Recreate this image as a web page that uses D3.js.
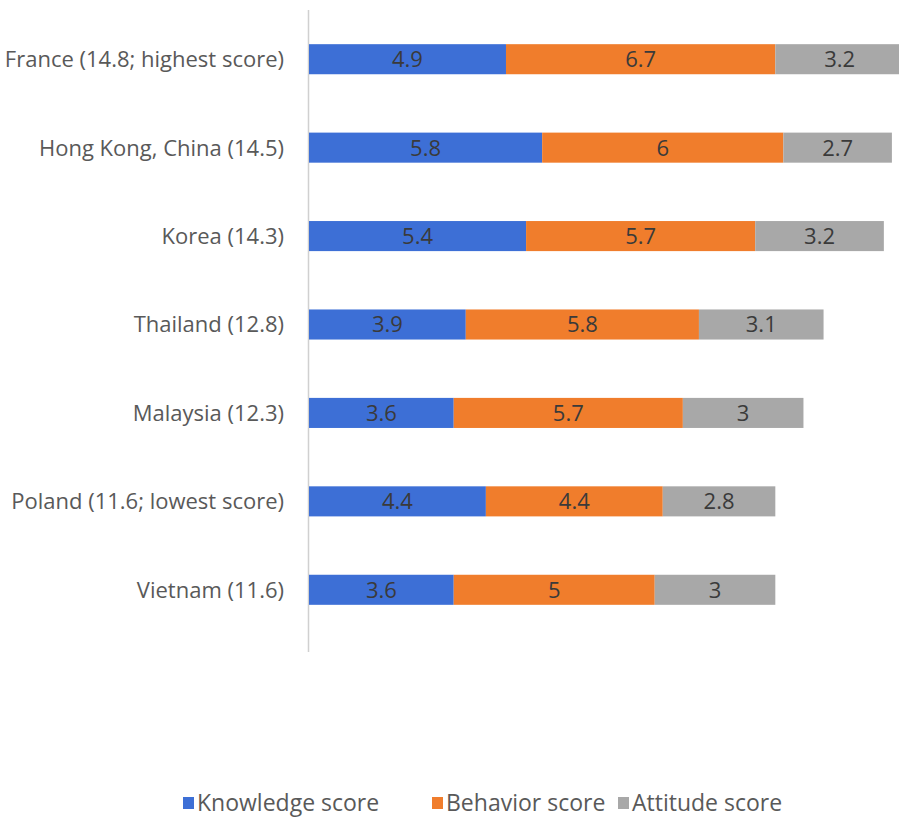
<!DOCTYPE html>
<html>
<head>
<meta charset="utf-8">
<script src="https://cdn.jsdelivr.net/npm/d3@7"></script>
<style>
  body { margin: 0; background: #fff; }
  svg { display: block; }
  text { font-family: "Open Sans", sans-serif; }
</style>
</head>
<body>
<svg id="chart" width="899" height="820"></svg>
<script>
// data
const countries = ["France (14.8; highest score)", "Hong Kong, China (14.5)", "Korea (14.3)",
                   "Thailand (12.8)", "Malaysia (12.3)", "Poland (11.6; lowest score)", "Vietnam (11.6)"];
const knowledge = [4.9, 5.8, 5.4, 3.9, 3.6, 4.4, 3.6];
const behavior  = [6.7, 6, 5.7, 5.8, 5.7, 4.4, 5];
const attitude  = [3.2, 2.7, 3.2, 3.1, 3, 2.8, 3];
const seriesNames = ["Knowledge score", "Behavior score", "Attitude score"];
const colors = ["#3d6fd6", "#f07d2c", "#a8a8a8"];

svg = d3.select("#chart");

rows = countries.map((c, i) => ({country: c, k: knowledge[i], b: behavior[i], a: attitude[i]}));
stack = d3.stack().keys(["k", "b", "a"])(rows);

x = d3.scaleLinear().domain([0, 14.8]).range([309, 309 + 14.8 * 40.2]);
y = d3.scaleBand().domain(countries).range([15, 634]).paddingInner(0.66).paddingOuter(0.33);

// category axis line
svg.append("line")
    .attr("x1", 308.5).attr("x2", 308.5)
    .attr("y1", 10).attr("y2", 652)
    .attr("stroke", "#d0d0d0").attr("stroke-width", 1.5);

layers = svg.selectAll(".layer")
    .data(stack)
    .join("g")
    .attr("class", "layer")
    .attr("fill", (d, i) => colors[i]);

layers.selectAll("rect")
    .data(d => d)
    .join("rect")
    .attr("x", d => x(d[0]))
    .attr("y", d => y(d.data.country))
    .attr("width", d => x(d[1]) - x(d[0]))
    .attr("height", y.bandwidth());

layers.selectAll("text")
    .data(d => d)
    .join("text")
    .text(d => +(d[1] - d[0]).toFixed(1))
    .attr("x", d => (x(d[0]) + x(d[1])) / 2)
    .attr("y", d => y(d.data.country) + y.bandwidth() / 2)
    .attr("dy", "0.36em")
    .attr("text-anchor", "middle")
    .attr("font-size", 22)
    .attr("fill", "#3a3a3a");

// country labels
svg.append("g")
    .selectAll("text")
    .data(countries)
    .join("text")
    .text(d => d)
    .attr("x", 284)
    .attr("y", d => y(d) + y.bandwidth() / 2)
    .attr("dy", "0.36em")
    .attr("text-anchor", "end")
    .attr("font-size", 22)
    .attr("fill", "#595959");

// legend
legendX = [183, 432, 618];
legend = svg.append("g").selectAll("g")
    .data(seriesNames)
    .join("g")
    .attr("transform", (d, i) => `translate(${legendX[i]}, 803)`);

legend.append("rect")
    .attr("x", 0).attr("y", -6)
    .attr("width", 11).attr("height", 12)
    .attr("fill", (d, i) => colors[i]);

legend.append("text")
    .text(d => d)
    .attr("x", 14)
    .attr("dy", "0.36em")
    .attr("font-size", 23)
    .attr("fill", "#595959");
</script>
</body>
</html>
